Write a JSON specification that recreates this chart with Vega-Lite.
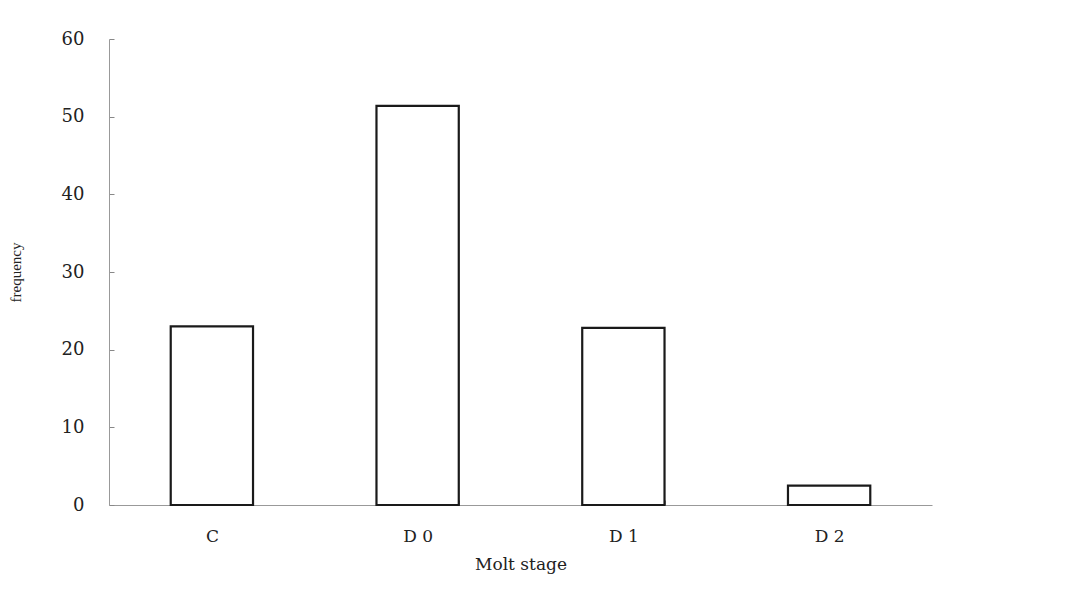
{
  "$schema": "https://vega.github.io/schema/vega-lite/v6.json",
  "autosize": "none",
  "width": 823,
  "height": 466,
  "padding": {"left": 109, "top": 39, "right": 145, "bottom": 87},
  "background": "white",
  "config": {"view": {"stroke": null}},
  "data": {"values": [
    {"stage": "C", "frequency": 23.0},
    {"stage": "D0", "frequency": 51.4},
    {"stage": "D1", "frequency": 22.8},
    {"stage": "D2", "frequency": 2.5}
  ]},
  "mark": {"type": "bar", "fill": "white", "stroke": "#1a1a1a", "strokeWidth": 2.2},
  "encoding": {
    "x": {
      "field": "stage", "type": "nominal", "sort": null,
      "scale": {"paddingInner": 0.6, "paddingOuter": 0.3},
      "axis": {
        "title": "Molt stage",
        "labelExpr": "replace(datum.label, /([0-9])/, ' $1')",
        "labelAngle": 0,
        "labelFont": "DejaVu Serif", "labelFontSize": 17, "labelColor": "#222",
        "labelPadding": 28,
        "titleFont": "DejaVu Serif", "titleFontSize": 17, "titleFontWeight": "normal", "titleColor": "#222",
        "titlePadding": 12,
        "tickBand": "extent", "tickSize": -5, "tickColor": "#888",
        "domainColor": "#999", "domainWidth": 1
      }
    },
    "y": {
      "field": "frequency", "type": "quantitative",
      "scale": {"domain": [0, 60], "nice": false},
      "axis": {
        "title": "frequency",
        "values": [0, 10, 20, 30, 40, 50, 60],
        "grid": false,
        "labelFont": "DejaVu Serif", "labelFontSize": 18, "labelColor": "#222",
        "labelPadding": 30,
        "titleFont": "Liberation Serif", "titleFontSize": 15, "titleFontWeight": "normal", "titleColor": "#222",
        "titlePadding": 38,
        "tickSize": -5, "tickColor": "#888",
        "domainColor": "#999", "domainWidth": 1
      }
    }
  }
}
